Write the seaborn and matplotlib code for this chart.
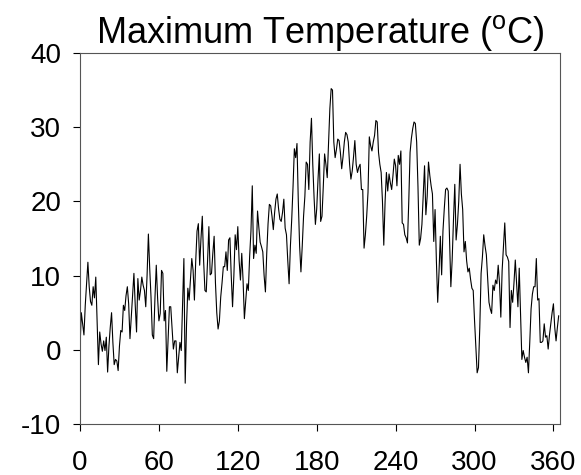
import numpy as np
import pandas as pd
import seaborn as sns
import matplotlib
matplotlib.use("Agg")
import matplotlib.pyplot as plt

# daily maximum temperature, day 0 .. 364
temps = [
    0.2, 5.0, 3.5, 2.0, 6.0, 9.0, 11.8, 8.5, 6.5, 6.0,
    8.5, 7.0, 9.8, 4.0, -2.0, 2.4, 0.8, -0.2, 1.2, -0.1,
    1.7, -3.0, 0.5, 3.0, 5.0, 1.0, -2.0, -1.3, -1.5, -2.8,
    0.5, 2.6, 2.4, 6.0, 5.3, 7.3, 8.5, 6.2, 1.5, 4.5,
    7.5, 10.3, 6.0, 2.4, 9.6, 6.7, 8.0, 9.8, 8.7, 8.0,
    5.8, 10.0, 15.6, 11.0, 7.1, 2.0, 1.5, 7.0, 11.4, 7.0,
    3.9, 4.9, 10.7, 10.3, 3.9, 5.3, -2.9, 1.5, 5.8, 5.8,
    3.0, 0.1, 1.2, 1.2, -3.1, -1.0, 1.0, -0.1, 6.0, 12.3,
    -4.5, 3.3, 8.3, 6.7, 9.5, 12.3, 10.7, 6.7, 12.0, 16.0,
    17.0, 11.4, 15.0, 18.0, 12.0, 8.0, 7.8, 12.0, 16.6, 10.1,
    10.3, 13.0, 15.3, 9.0, 5.0, 2.8, 3.9, 7.1, 9.0, 11.2,
    11.2, 13.2, 10.7, 14.8, 15.1, 10.0, 5.8, 10.0, 15.5, 13.5,
    16.6, 12.0, 9.4, 13.0, 9.4, 4.2, 6.5, 8.9, 8.0, 12.6,
    16.0, 22.1, 12.3, 14.1, 13.0, 18.7, 16.5, 14.5, 13.9, 13.2,
    10.0, 7.8, 13.0, 17.0, 19.6, 19.4, 18.0, 16.2, 18.5, 20.3,
    21.0, 19.0, 17.6, 17.3, 18.5, 20.3, 16.4, 15.5, 12.0, 8.9,
    14.0, 17.6, 22.0, 27.1, 25.9, 27.8, 20.0, 14.0, 10.5, 14.0,
    18.0, 20.7, 25.3, 25.0, 21.6, 28.0, 31.2, 25.0, 20.5, 16.9,
    19.0, 23.0, 26.4, 17.3, 18.0, 22.0, 26.4, 25.0, 23.2, 28.0,
    32.5, 35.2, 35.0, 28.0, 25.9, 27.0, 28.4, 28.2, 26.6, 24.4,
    26.0, 28.0, 29.3, 29.0, 28.0, 25.0, 23.0, 24.1, 26.0, 28.2,
    25.0, 23.9, 24.6, 25.0, 21.6, 21.6, 13.7, 15.5, 18.0, 21.2,
    28.7, 27.5, 26.8, 28.0, 28.9, 30.9, 30.7, 26.6, 25.0, 23.9,
    20.0, 14.1, 20.0, 23.9, 21.4, 23.7, 22.5, 21.6, 23.5, 25.7,
    24.8, 22.1, 26.2, 25.0, 26.8, 17.1, 16.9, 15.5, 15.1, 14.4,
    20.0, 26.6, 28.5, 29.8, 30.7, 30.5, 28.0, 22.0, 14.1, 15.0,
    16.9, 21.0, 24.8, 18.2, 20.7, 25.3, 23.5, 22.1, 21.0, 14.6,
    18.9, 12.0, 6.4, 10.5, 15.3, 10.1, 16.0, 19.0, 21.6, 21.8,
    21.4, 15.0, 8.5, 12.1, 17.5, 22.3, 14.8, 16.9, 20.0, 25.0,
    21.0, 18.9, 13.2, 14.6, 12.0, 10.5, 11.0, 9.5, 8.3, 8.0,
    4.0, 0.5, -3.1, -2.4, 3.0, 10.3, 12.5, 15.5, 14.0, 12.8,
    9.5, 6.4, 5.5, 4.9, 8.7, 8.0, 9.4, 8.9, 11.4, 9.0,
    4.4, 10.7, 14.0, 17.1, 12.8, 12.5, 11.9, 3.0, 8.0, 6.4,
    9.0, 12.1, 9.0, 5.8, 11.0, 5.0, -1.3, -0.1, -1.0, -1.7,
    -1.0, -3.1, 1.0, 5.5, 7.5, 8.5, 8.5, 12.3, 6.7, 6.9,
    1.0, 1.0, 1.2, 3.5, 1.7, 1.9, 0.1, 2.0, 3.5, 5.0,
    6.2, 3.0, 1.2, 3.0, 4.6,
]
days = np.arange(len(temps))

x_ticks = [0, 60, 120, 180, 240, 300, 360]
y_ticks = [-10, 0, 10, 20, 30, 40]

df = pd.DataFrame({"Day": days, "Tmax": temps})

sns.set_style("ticks")
plt.rcParams["font.family"] = ["Liberation Sans", "DejaVu Sans"]
plt.rcParams["mathtext.fontset"] = "custom"
plt.rcParams["mathtext.rm"] = "Liberation Sans"
plt.rcParams["axes.unicode_minus"] = False

fig = plt.figure(figsize=(5.81, 4.75), dpi=100)
ax = fig.add_axes([80 / 581, 1 - 424 / 475, 480 / 581, 371 / 475])

sns.lineplot(data=df, x="Day", y="Tmax", color="black", linewidth=0.8, ax=ax)

ax.set_xlim(0, 365)
ax.set_ylim(-10, 40)
ax.set_xticks(x_ticks)
ax.set_yticks(y_ticks)
ax.set_xlabel("")
ax.set_ylabel("")
ax.tick_params(axis="both", direction="out", length=5, width=0.8,
               colors="black", labelsize=20, pad=8.5)
ax.tick_params(axis="x", pad=14)
for s in ax.spines.values():
    s.set_linewidth(0.8)
    s.set_color("#555555")
    s.set_visible(True)

ax.set_title(r"Maximum Temperature ($^\mathrm{o}$C)", fontsize=26, pad=3,
             color="black")

fig.savefig("out.png", dpi=100)
